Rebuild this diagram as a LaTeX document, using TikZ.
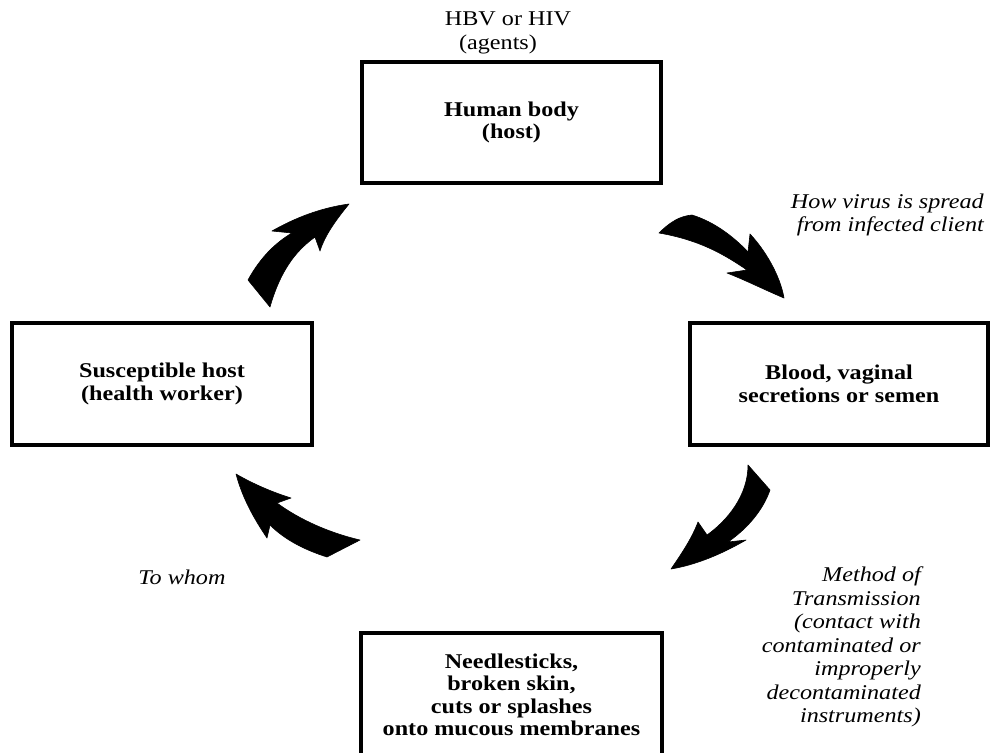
\documentclass[tikz,border=0pt]{standalone}
\usepackage{fontspec}
\setmainfont{Liberation Serif}[FakeStretch=1.15]
\newcommand\boxfont{\bfseries\fontsize{21}{22.5}\selectfont}
\newcommand\notefont{\itshape\fontsize{21}{23.5}\selectfont}
\newcommand\plainfont{\fontsize{21}{22}\selectfont}
\begin{document}
\begin{tikzpicture}[x=1pt,y=-1pt,
  box/.style={draw, line width=3.2pt, inner sep=0pt, align=center, font=\boxfont},
  note/.style={inner sep=0pt, font=\notefont},
  plain/.style={inner sep=0pt, font=\plainfont},
  bigarrow/.style={fill=black, draw=black, line width=0.6pt, line join=round}]
\useasboundingbox (0,0) rectangle (990,752);

% boxes
\node[box, minimum width=299, minimum height=121] (host) at (511.5,122.5) {Human body\\(host)};
\node[box, minimum width=300, minimum height=122] (worker) at (162,384) {Susceptible host\\(health worker)};
\node[box, minimum width=298, minimum height=122] (blood) at (839,384) {Blood, vaginal\\secretions or semen};
\node[box, minimum width=301, minimum height=124] (needle) at (511.5,695) {Needlesticks,\\broken skin,\\cuts or splashes\\onto mucous membranes};
\draw[line width=3.2pt] (361,633) -- (361,770) (662,633) -- (662,770);

% labels
\node[plain] (agent1) at (508,19) {HBV or HIV};
\node[plain] (agent2) at (498,44) {(agents)};
\node[note, anchor=east, align=right] (spread) at (984,215) {How virus is spread\\from infected client};
\node[note, anchor=east, align=right] (method) at (921,647) {Method of\\Transmission\\(contact with\\contaminated or\\improperly\\decontaminated\\instruments)};
\node[note] (whom) at (182,577) {To whom};

% curved arrows
% worker -> host
\filldraw[bigarrow] (248,280) .. controls (260,258) and (275,243) .. (292,233) -- (272,231)
  .. controls (295,218) and (320,208) .. (349,204)
  .. controls (336,220) and (325,235) .. (320,251) -- (315,237)
  .. controls (300,248) and (282,265) .. (270,307) -- cycle;
% host -> blood
\filldraw[bigarrow] (659,233) .. controls (670,222) and (680,216) .. (692,215)
  .. controls (715,222) and (735,238) .. (748,252) -- (750,234)
  .. controls (765,250) and (780,275) .. (784,298)
  .. controls (765,290) and (745,280) .. (727,273) -- (747,270)
  .. controls (725,255) and (700,240) .. (659,233) -- cycle;
% blood -> needle
\filldraw[bigarrow] (748,465) -- (770,490)
  .. controls (763,510) and (748,528) .. (728,542) -- (746,540)
  .. controls (720,555) and (695,565) .. (671,569)
  .. controls (682,553) and (692,538) .. (698,522) -- (707,535)
  .. controls (728,520) and (748,495) .. (748,465) -- cycle;
% needle -> worker
\filldraw[bigarrow] (236,474) .. controls (255,485) and (275,493) .. (291,498) -- (277,503)
  .. controls (300,520) and (330,533) .. (360,540) -- (327,557)
  .. controls (305,550) and (285,540) .. (270,525) -- (267,538)
  .. controls (255,520) and (243,500) .. (236,474) -- cycle;
\end{tikzpicture}
\end{document}
